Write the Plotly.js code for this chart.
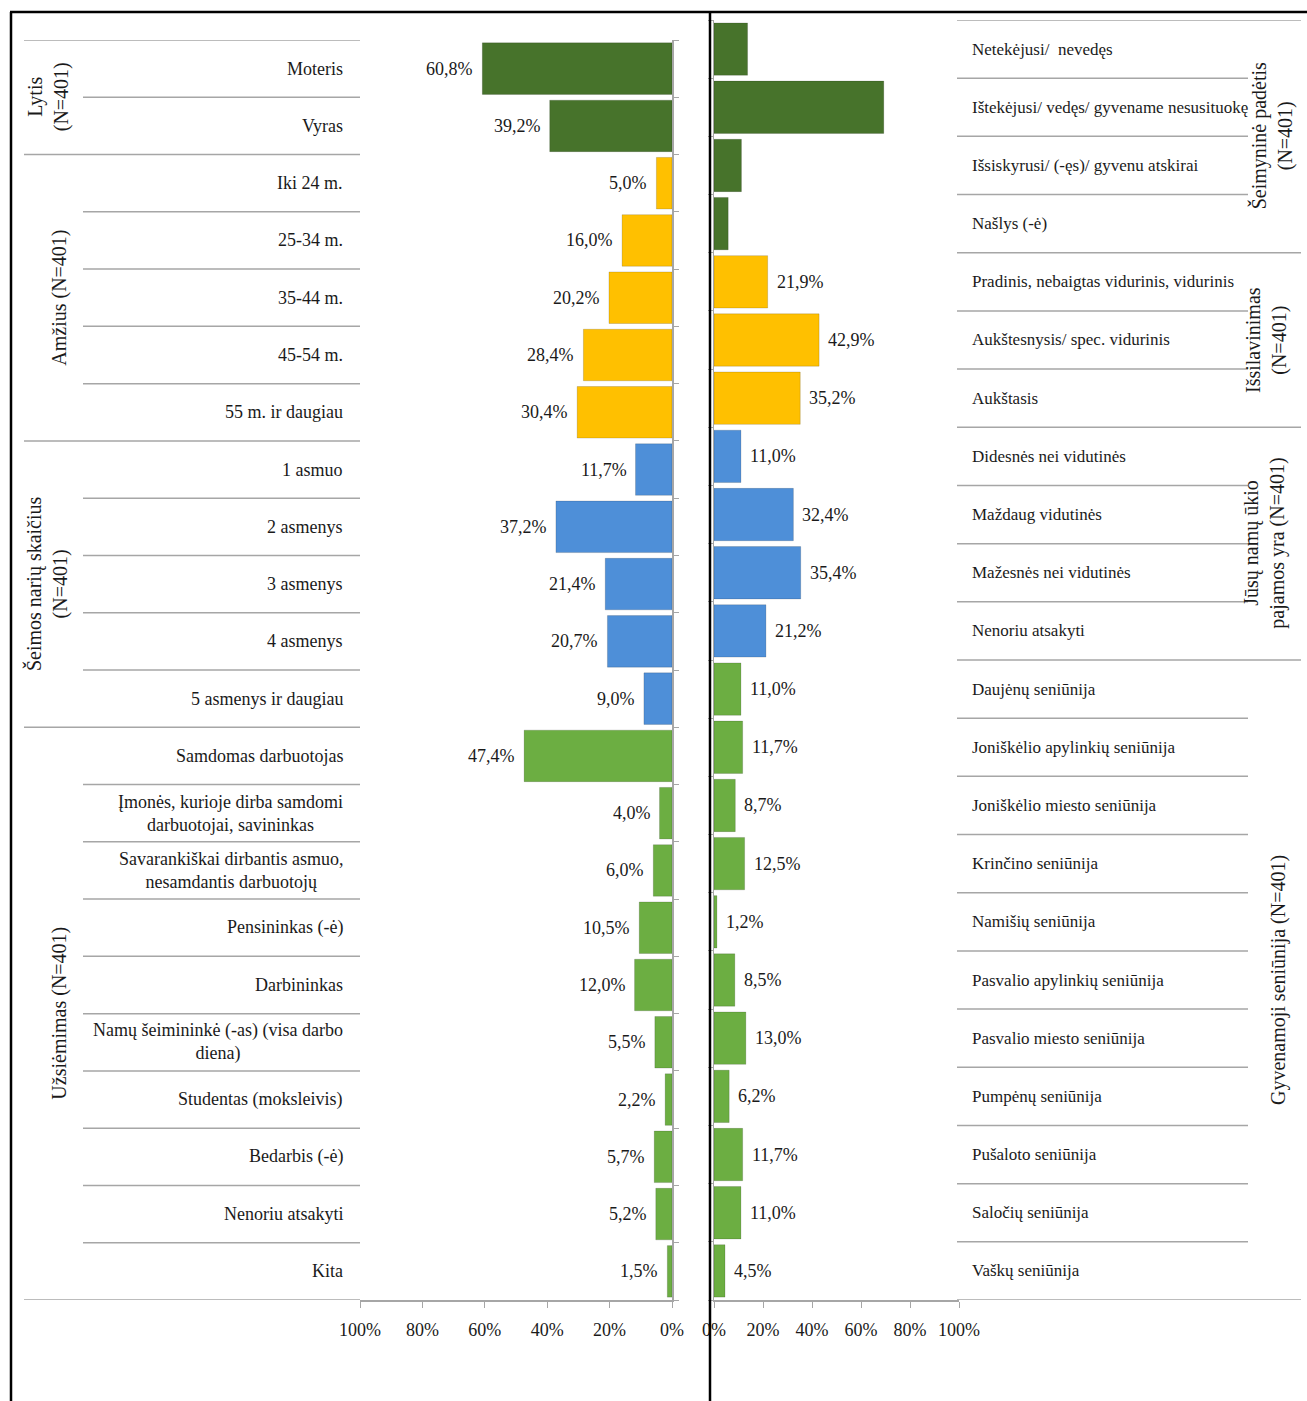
<!DOCTYPE html>
<html>
<head>
<meta charset="utf-8">
<script src="https://cdn.plot.ly/plotly-3.0.1.min.js"></script>
<style>
  html, body { margin: 0; padding: 0; background: #ffffff; }
  #chart { width: 1307px; height: 1401px; }
</style>
</head>
<body>
<div id="chart"></div>
<script>
// ---------------- DATA ----------------
// Left panel groups
const lytisLabels = ["Moteris", "Vyras"];
const lytisValues = [60.8, 39.2];

const amziusLabels = ["Iki 24 m.", "25-34 m.", "35-44 m.", "45-54 m.", "55 m. ir daugiau"];
const amziusValues = [5.0, 16.0, 20.2, 28.4, 30.4];

const seimosLabels = ["1 asmuo", "2 asmenys", "3 asmenys", "4 asmenys", "5 asmenys ir daugiau"];
const seimosValues = [11.7, 37.2, 21.4, 20.7, 9.0];

const uzsiemimasLabels = [
  "Samdomas darbuotojas",
  "Įmonės, kurioje dirba samdomi<br>darbuotojai, savininkas",
  "Savarankiškai dirbantis asmuo,<br>nesamdantis darbuotojų",
  "Pensininkas (-ė)",
  "Darbininkas",
  "Namų šeimininkė (-as) (visa darbo<br>diena)",
  "Studentas (moksleivis)",
  "Bedarbis (-ė)",
  "Nenoriu atsakyti",
  "Kita"
];
const uzsiemimasValues = [47.4, 4.0, 6.0, 10.5, 12.0, 5.5, 2.2, 5.7, 5.2, 1.5];

// Right panel groups
const seimyninėLabels = [
  "Netekėjusi/  nevedęs",
  "Ištekėjusi/ vedęs/ gyvename nesusituokę",
  "Išsiskyrusi/ (-ęs)/ gyvenu atskirai",
  "Našlys (-ė)"
];
const seimyninėValues = [13.7, 69.3, 11.2, 5.8]; // no value labels shown in the source

const issilavinimasLabels = [
  "Pradinis, nebaigtas vidurinis, vidurinis",
  "Aukštesnysis/ spec. vidurinis",
  "Aukštasis"
];
const issilavinimasValues = [21.9, 42.9, 35.2];

const pajamosLabels = [
  "Didesnės nei vidutinės",
  "Maždaug vidutinės",
  "Mažesnės nei vidutinės",
  "Nenoriu atsakyti"
];
const pajamosValues = [11.0, 32.4, 35.4, 21.2];

const seniunijaLabels = [
  "Daujėnų seniūnija",
  "Joniškėlio apylinkių seniūnija",
  "Joniškėlio miesto seniūnija",
  "Krinčino seniūnija",
  "Namišių seniūnija",
  "Pasvalio apylinkių seniūnija",
  "Pasvalio miesto seniūnija",
  "Pumpėnų seniūnija",
  "Pušaloto seniūnija",
  "Saločių seniūnija",
  "Vaškų seniūnija"
];
const seniunijaValues = [11.0, 11.7, 8.7, 12.5, 1.2, 8.5, 13.0, 6.2, 11.7, 11.0, 4.5];

const leftGroupTitles = ["Lytis<br>(N=401)", "Amžius (N=401)", "Šeimos narių skaičius<br>(N=401)", "Užsiėmimas (N=401)"];
const rightGroupTitles = ["Šeimyninė padėtis<br>(N=401)", "Išsilavinimas<br>(N=401)", "Jūsų namų ūkio<br>pajamos yra (N=401)", "Gyvenamoji seniūnija (N=401)"];

const tickValues = [0, 20, 40, 60, 80, 100];

// ---------------- STYLE ----------------
const W = 1307, H = 1401;
const px = v => v / W;
const py = v => 1 - v / H;
const FONT = "Liberation Serif, Times New Roman, serif";
const TXT = "#1a1a1a";
const GRID = "#a6a6a6";
const COLORS = ["#47732b", "#ffc000", "#4e8fd8", "#6cae42"];

const leftGroups = [
  {labels: lytisLabels, values: lytisValues, showText: true},
  {labels: amziusLabels, values: amziusValues, showText: true},
  {labels: seimosLabels, values: seimosValues, showText: true},
  {labels: uzsiemimasLabels, values: uzsiemimasValues, showText: true}
];
const rightGroups = [
  {labels: seimyninėLabels, values: seimyninėValues, showText: false},
  {labels: issilavinimasLabels, values: issilavinimasValues, showText: true},
  {labels: pajamosLabels, values: pajamosValues, showText: true},
  {labels: seniunijaLabels, values: seniunijaValues, showText: true}
];

const fmt = v => v.toFixed(1).replace(".", ",") + "%";

const traces = [];
const annotations = [];
const shapes = [];

function buildPanel(groups, titles, xa, ya, opts) {
  let idx = 0;
  const nTotal = groups.reduce((s, g) => s + g.labels.length, 0);
  groups.forEach((g, gi) => {
    const ys = g.labels.map((_, i) => idx + i);
    traces.push({
      type: "bar",
      orientation: "h",
      x: g.values,
      y: ys,
      xaxis: xa,
      yaxis: ya,
      marker: {color: COLORS[gi], line: {color: "rgba(0,0,0,0.15)", width: 1}},
      hoverinfo: "skip",
      showlegend: false
    });
    // value labels (placed at the bar end through the axis)
    if (g.showText) {
      g.values.forEach((v, i) => {
        annotations.push({
          xref: xa, yref: ya, x: v, y: idx + i,
          text: fmt(v), showarrow: false,
          xanchor: opts.valueAnchor, yanchor: "middle", xshift: opts.valueShift,
          font: {family: FONT, size: 18, color: TXT}
        });
      });
    }
    // category labels
    g.labels.forEach((lab, i) => {
      annotations.push({
        xref: "paper", yref: ya, x: opts.labelX, y: idx + i,
        text: lab, showarrow: false,
        xanchor: opts.labelAnchor, yanchor: "middle", align: opts.labelAlign,
        font: {family: FONT, size: opts.labelSize, color: TXT}
      });
    });
    // separator lines inside group
    for (let i = 1; i < g.labels.length; i++) {
      shapes.push({
        type: "line", xref: "paper", yref: ya,
        x0: opts.innerX0, x1: opts.innerX1, y0: idx + i - 0.5, y1: idx + i - 0.5,
        line: {color: GRID, width: 1.5}
      });
    }
    // group boundary line (top of group)
    shapes.push({
      type: "line", xref: "paper", yref: ya,
      x0: opts.outerX0, x1: opts.outerX1, y0: idx - 0.5, y1: idx - 0.5,
      line: {color: GRID, width: 1.5}
    });
    // group title
    annotations.push({
      xref: "paper", yref: ya, x: opts.titleX[gi], y: idx + (g.labels.length - 1) / 2,
      text: titles[gi], showarrow: false, textangle: -90,
      xanchor: "center", yanchor: "middle", align: "center",
      font: {family: FONT, size: 20, color: TXT}
    });
    idx += g.labels.length;
  });
  // bottom boundary
  shapes.push({
    type: "line", xref: "paper", yref: ya,
    x0: opts.outerX0, x1: opts.outerX1, y0: nTotal - 0.5, y1: nTotal - 0.5,
    line: {color: GRID, width: 1.5}
  });
  return nTotal;
}

const nLeft = buildPanel(leftGroups, leftGroupTitles, "x", "y", {
  labelX: px(345), labelAnchor: "right", labelAlign: "center", labelSize: 18,
  valueAnchor: "right", valueShift: -7,
  innerX0: px(83), innerX1: px(360), outerX0: px(24), outerX1: px(360),
  titleX: [px(48), px(60), px(47), px(60)]
});
const nRight = buildPanel(rightGroups, rightGroupTitles, "x2", "y2", {
  labelX: px(970), labelAnchor: "left", labelAlign: "left", labelSize: 17,
  valueAnchor: "left", valueShift: 7,
  innerX0: px(957), innerX1: px(1248), outerX0: px(957), outerX1: px(1301),
  titleX: [px(1272), px(1267), px(1265), px(1278)]
});

function boundaries(n) {
  const b = [];
  for (let i = 0; i <= n; i++) b.push(i - 0.5);
  return b;
}

// frame lines
shapes.push({type: "line", xref: "paper", yref: "paper", x0: px(10), x1: px(1307), y0: py(12), y1: py(12), line: {color: "#000", width: 2.5}});
shapes.push({type: "line", xref: "paper", yref: "paper", x0: px(11), x1: px(11), y0: py(12), y1: 0, line: {color: "#000", width: 2.5}});
shapes.push({type: "line", xref: "paper", yref: "paper", x0: px(710), x1: px(710), y0: py(12), y1: 0, line: {color: "#000", width: 2.5}});

const axisTickFont = {family: FONT, size: 18, color: TXT};

const layout = {
  width: W, height: H,
  margin: {l: 0, r: 0, t: 0, b: 0},
  paper_bgcolor: "#ffffff",
  plot_bgcolor: "rgba(0,0,0,0)",
  bargap: 0.1,
  showlegend: false,
  xaxis: {
    domain: [px(360), px(672)], range: [100, 0], anchor: "y",
    tickvals: tickValues, ticktext: tickValues.map(v => v + "%"),
    showgrid: false, zeroline: false, showline: true, linecolor: GRID, linewidth: 1.5,
    ticks: "outside", ticklen: 6, tickcolor: GRID, tickfont: axisTickFont,
    ticklabelstandoff: 7, fixedrange: true
  },
  yaxis: {
    domain: [py(1300), py(40)], range: [nLeft - 0.5, -0.5], anchor: "x", side: "right",
    tickvals: boundaries(nLeft), showticklabels: false,
    showgrid: false, zeroline: false, showline: true, linecolor: GRID, linewidth: 1.5,
    ticks: "outside", ticklen: 5, tickcolor: GRID, fixedrange: true
  },
  xaxis2: {
    domain: [px(714), px(959)], range: [0, 100], anchor: "y2",
    tickvals: tickValues, ticktext: tickValues.map(v => v + "%"),
    showgrid: false, zeroline: false, showline: true, linecolor: GRID, linewidth: 1.5,
    ticks: "outside", ticklen: 6, tickcolor: GRID, tickfont: axisTickFont,
    ticklabelstandoff: 7, fixedrange: true
  },
  yaxis2: {
    domain: [py(1300), py(20)], range: [nRight - 0.5, -0.5], anchor: "x2", side: "left",
    tickvals: boundaries(nRight), showticklabels: false,
    showgrid: false, zeroline: false, showline: true, linecolor: GRID, linewidth: 1.5,
    ticks: "outside", ticklen: 5, tickcolor: GRID, fixedrange: true
  },
  annotations: annotations,
  shapes: shapes
};

Plotly.newPlot("chart", traces, layout, {staticPlot: true, displayModeBar: false});
</script>
</body>
</html>
